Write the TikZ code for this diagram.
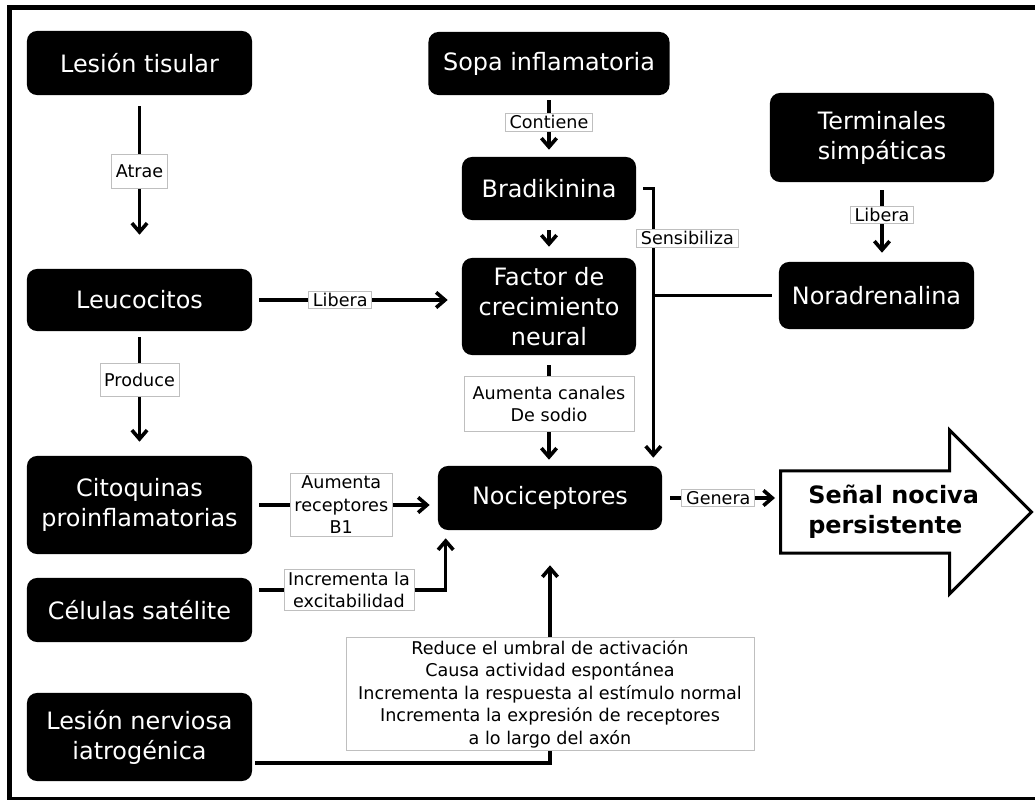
\documentclass[tikz,border=0pt]{standalone}
\usepackage{fontspec}
\setmainfont{DejaVu Sans}
\usepackage{tikz}
\usetikzlibrary{arrows.meta, positioning, shapes.arrows, calc}

\newcommand{\boxfont}{\fontsize{17}{21.3}\selectfont}
\newcommand{\lblfont}{\fontsize{12.5}{16}\selectfont}
\newcommand{\senalfont}{\bfseries\fontsize{17}{21.3}\selectfont}

\tikzset{
  box/.style={fill=black, text=white, rounded corners=0.25cm, align=center,
    font=\boxfont, inner sep=0pt},
  lbl/.style={draw=black!25, line width=0.6pt, fill=white, text=black,
    font=\lblfont, align=center, inner xsep=3pt, inner ysep=1.5pt},
  arr/.style={line width=0.09cm, -{Straight Barb[length=0.22cm, width=0.38cm]}},
  link/.style={line width=0.09cm}
}

\begin{document}
\begin{tikzpicture}[x=0.025cm, y=-0.025cm]
  % page: 1035 x 800 px, y grows downwards
  \clip (0,0) rectangle (1035,800);
  \draw[line width=0.125cm] (9.5,7.5) rectangle (1045,799.5);

  % Left column
  \node[box, minimum width=5.625cm, minimum height=1.6cm]  (lesion)  at (139.5,63)  {Lesión tisular};
  \node[box, minimum width=5.625cm, minimum height=1.55cm] (leuco)   at (139.5,300) {Leucocitos};
  \node[box, minimum width=5.625cm, minimum height=2.45cm] (citoq)   at (139.5,505) {Citoquinas\\proinflamatorias};
  \node[box, minimum width=5.625cm, minimum height=1.6cm]  (celulas) at (139.5,610) {Células satélite};
  \node[box, minimum width=5.625cm, minimum height=2.2cm]  (lesnerv) at (139.5,737) {Lesión nerviosa\\iatrogénica};
  % Middle column
  \node[box, minimum width=6.025cm, minimum height=1.575cm] (sopa)   at (549,63.5)  {Sopa inflamatoria};
  \node[box, minimum width=4.35cm,  minimum height=1.575cm] (bradi)  at (549,188.5) {Bradikinina};
  \node[box, minimum width=4.35cm,  minimum height=2.425cm] (factor) at (549,306.5) {Factor de\\crecimiento\\neural};
  \node[box, minimum width=5.6cm,   minimum height=1.6cm]   (noci)   at (550,498)   {Nociceptores};
  % Right column
  \node[box, minimum width=5.6cm,   minimum height=2.225cm] (term)   at (882,137.5) {Terminales\\simpáticas};
  \node[box, minimum width=4.875cm, minimum height=1.675cm] (noradr) at (876.5,295.5) {Noradrenalina};

  % Output arrow (body 79 px thick, head 161 px wide)
  \node[draw, line width=0.075cm, single arrow, single arrow head extend=1.025cm,
    single arrow tip angle=90, single arrow head indent=0cm, inner xsep=0pt, inner ysep=0.9875cm,
    minimum height=6.275cm, minimum width=4.025cm, anchor=tail] (senal) at (779,512) {};
  \node[anchor=west, align=left, font=\senalfont, inner sep=0pt] (senaltxt)
    at ([xshift=0.725cm]senal.tail) {Señal nociva\\persistente};

  % Connectors
  \draw[arr, shorten <=0.275cm, shorten >=0.85cm] (lesion) -- node[lbl, pos=0.44, minimum height=0.85cm] {Atrae} (leuco);
  \draw[arr, shorten <=0.175cm, shorten >=0.35cm] (leuco) -- node[lbl, pos=0.42] {Libera} (leuco -| factor.west);
  \draw[arr, shorten <=0.15cm, shorten >=0.35cm] (leuco) -- node[lbl, pos=0.39, minimum height=0.83cm] {Produce} (citoq);
  \draw[arr, shorten <=0.125cm, shorten >=0.175cm] (sopa) -- node[lbl, pos=0.44] {Contiene} (bradi);
  \draw[arr, shorten <=0.25cm, shorten >=0.275cm] (bradi) -- (factor);
  \draw[arr, shorten <=0.25cm, shorten >=0.15cm] (factor) -- node[lbl, pos=0.44, minimum width=4.25cm, minimum height=1.375cm] {Aumenta canales\\De sodio} (factor |- noci.north);

  % Sensibiliza line, Noradrenalina joins it
  \coordinate (sens) at ([xshift=-0.225cm]noci.north east);
  \draw[arr, shorten <=0.175cm, shorten >=0.2cm] (bradi.east) -| node[lbl, pos=0.59, xshift=0.85cm] {Sensibiliza} (sens);
  \draw[link, shorten <=0.175cm] (noradr.west) -- (noradr.west -| sens);
  \draw[arr, shorten <=0.2cm, shorten >=0.225cm] (term.south) -- node[lbl, pos=0.41] {Libera} (term.south |- noradr.north);

  \draw[arr, shorten <=0.175cm, shorten >=0.2cm] (citoq) -- node[lbl, pos=0.48, inner ysep=2pt] {Aumenta\\receptores\\B1} (citoq -| noci.west);
  \draw[arr, shorten <=0.175cm, shorten >=0.2cm] ([yshift=0.5cm]celulas.east) -| node[lbl, pos=0.25] {Incrementa la\\excitabilidad} ([xshift=0.2cm]noci.south west);
  \draw[arr, shorten <=0.075cm, shorten >=0.875cm] ([yshift=-0.65cm]lesnerv.east) -| node[lbl, pos=0.648, minimum width=10.2cm, minimum height=2.825cm]
    {Reduce el umbral de activación\\Causa actividad espontánea\\Incrementa la respuesta al estímulo normal\\Incrementa la expresión de receptores\\a lo largo del axón} (noci.south);
  \draw[arr, shorten <=0.2cm, shorten >=0.1cm] (noci) -- node[lbl, pos=0.48] {Genera} (noci -| senal.tail);
\end{tikzpicture}
\end{document}
